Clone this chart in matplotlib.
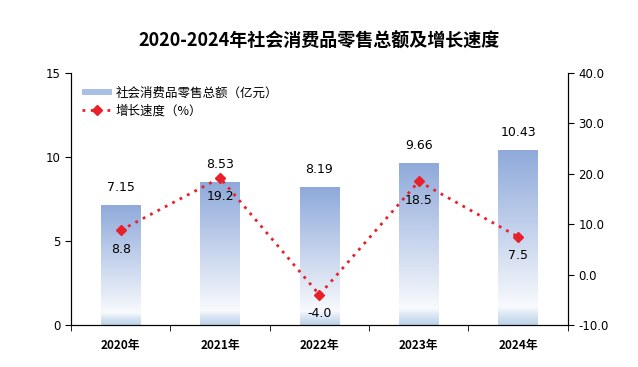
import matplotlib
matplotlib.use("Agg")
import matplotlib.pyplot as plt
import numpy as np
from matplotlib.colors import LinearSegmentedColormap
from matplotlib.patches import Rectangle
from matplotlib.lines import Line2D
from matplotlib.legend_handler import HandlerBase

plt.rcParams['font.family'] = ['Noto Sans CJK SC', 'DejaVu Sans']

years = ['2020年', '2021年', '2022年', '2023年', '2024年']
sales = [7.15, 8.53, 8.19, 9.66, 10.43]
growth = [8.8, 19.2, -4.0, 18.5, 7.5]

bar_cmap = LinearSegmentedColormap.from_list(
    'bar', [(0.0, '#BCD3EA'), (0.06, '#DCE7F4'), (0.10, '#F8FAFD'),
            (0.25, '#E6ECF7'), (1.0, '#8EA9DA')])

fig = plt.figure(figsize=(6.38, 3.67), dpi=100)
ax = fig.add_axes([0.1113, 0.1144, 0.7787, 0.6866])
ax2 = ax.twinx()

x = np.arange(len(years))
width = 0.40
grad = np.linspace(0, 1, 256).reshape(-1, 1)
for xi, v in zip(x, sales):
    im = ax.imshow(grad, cmap=bar_cmap, origin='lower', aspect='auto',
                   extent=(xi - width / 2, xi + width / 2, 0, v), zorder=2)
    rect = Rectangle((xi - width / 2, 0), width, v, transform=ax.transData,
                     facecolor='none', edgecolor='none')
    ax.add_patch(rect)
    im.set_clip_path(rect)
    ax.annotate(f'{v:.2f}', (xi, v), xytext=(0, 8), textcoords='offset points',
                ha='center', va='bottom', fontsize=9, family='DejaVu Sans')

ax.set_xlim(-0.5, 4.5)
ax.set_ylim(0, 15)
ax.set_yticks([0, 5, 10, 15])

ax2.plot(x, growth, color='#E8202A', linestyle=(0, (1, 2.0)), linewidth=2.0,
         marker='D', markersize=5.5, zorder=5)
for xi, g in zip(x, growth):
    ax2.annotate(f'{g:.1f}', (xi, g), xytext=(0, -9), textcoords='offset points',
                 ha='center', va='top', fontsize=9, family='DejaVu Sans')
ax2.set_ylim(-10, 40)
ax2.set_yticks(np.arange(-10, 41, 10))
ax2.set_yticklabels([f'{t:.1f}' for t in np.arange(-10, 41, 10)])

ax.set_xticks(x)
ax.set_xticklabels(years, fontweight='bold', fontsize=8.5)
ax.set_xticks(np.arange(-0.5, 5, 1), minor=True)
ax.tick_params(axis='x', which='major', length=0, pad=10)
ax.tick_params(axis='x', which='minor', length=4, direction='out')
ax.tick_params(axis='y', labelsize=8.5, length=4, direction='out')
ax2.tick_params(axis='y', labelsize=8.5, length=4, direction='out')
for lab in ax.get_yticklabels() + ax2.get_yticklabels():
    lab.set_family('DejaVu Sans')

for a in (ax, ax2):
    a.spines['top'].set_visible(False)
ax.set_zorder(ax2.get_zorder() - 1)
ax2.patch.set_visible(False)


class GradHandler(HandlerBase):
    def create_artists(self, legend, orig, xd, yd, w, h, fontsize, trans):
        r = Rectangle((xd, yd + h * 0.15), w, h * 0.7, transform=trans,
                      facecolor='#A9BFE4', edgecolor='none')
        return [r]


bar_handle = Rectangle((0, 0), 1, 1)
line_handle = Line2D([], [], color='#E8202A', linestyle=(0, (1, 2.0)),
                     linewidth=2.0, marker='D', markersize=5)
ax2.legend([bar_handle, line_handle], ['社会消费品零售总额（亿元）', '增长速度（%）'],
           handler_map={Rectangle: GradHandler()}, loc='upper left',
           bbox_to_anchor=(0.0, 0.99), frameon=False, fontsize=9,
           handlelength=2.4, handletextpad=0.3, labelspacing=0.35, borderaxespad=0.5)

fig.suptitle('2020-2024年社会消费品零售总额及增长速度', y=0.915, fontsize=13,
             fontweight='bold')

fig.savefig('out.png', dpi=100)
